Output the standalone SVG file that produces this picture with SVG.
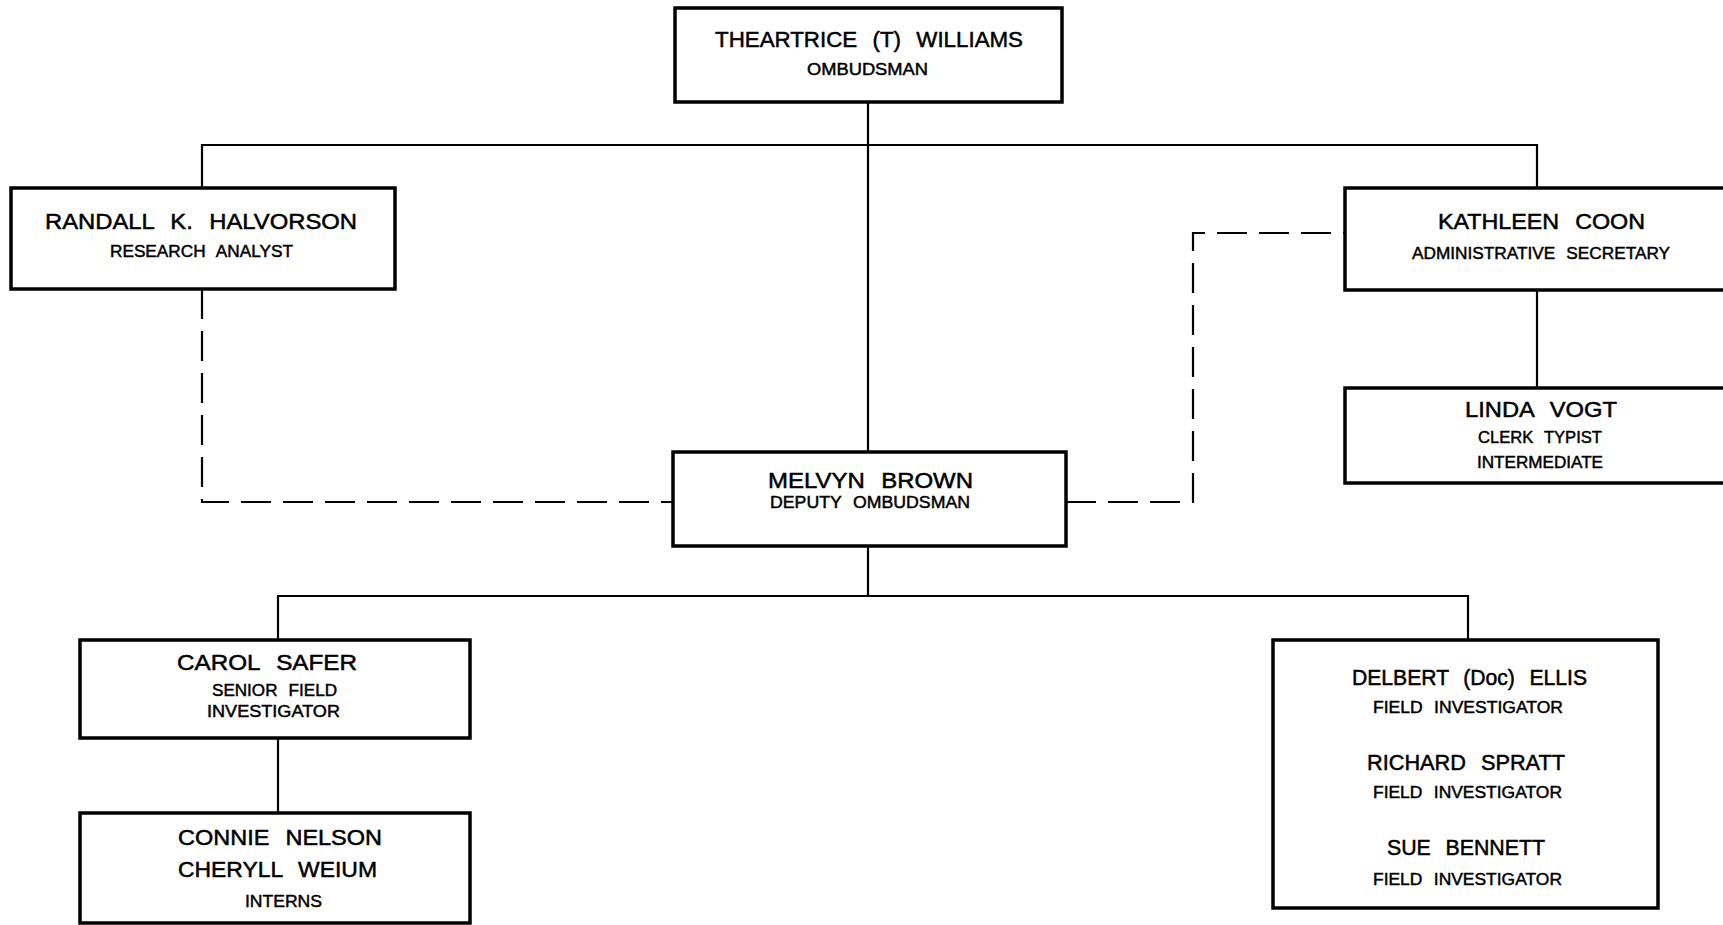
<svg xmlns="http://www.w3.org/2000/svg" width="1723" height="925" viewBox="0 0 1723 925">
<style>
.box{fill:#fff;stroke:#000;stroke-width:3.5}
.ln{fill:none;stroke:#000;stroke-width:2.2}
.dash{fill:none;stroke:#000;stroke-width:2.2;stroke-dasharray:30 12}
.nm{font-family:"Liberation Sans",Arial,sans-serif;font-size:22px;fill:#000;stroke:#000;stroke-width:0.5;word-spacing:9px}
.sb{font-family:"Liberation Sans",Arial,sans-serif;font-size:16px;fill:#000;stroke:#000;stroke-width:0.45;word-spacing:6px}
</style>
<rect width="1723" height="925" fill="#fff"/>
<g id="connectors">
<path class="ln" d="M868,102 V452"/>
<path class="ln" d="M202,188 V145 H1537 V188"/>
<path class="ln" d="M1537,290 V388"/>
<path class="ln" d="M868,546 V596"/>
<path class="ln" d="M278,640 V596 H1468 V640"/>
<path class="ln" d="M278,738 V813"/>
<path class="dash" d="M202,289 V502 H673"/>
<path class="dash" d="M1066,502 H1193 V233 H1345"/>
</g>
<g id="williams">
<rect class="box" x="675" y="8" width="387" height="94"/>
<text class="nm" x="715" y="47" textLength="308" lengthAdjust="spacingAndGlyphs">THEARTRICE (T) WILLIAMS</text>
<text class="sb" x="807" y="75" textLength="121" lengthAdjust="spacingAndGlyphs">OMBUDSMAN</text>
</g>
<g id="halvorson">
<rect class="box" x="11" y="188" width="384" height="101"/>
<text class="nm" x="45" y="229" textLength="312" lengthAdjust="spacingAndGlyphs">RANDALL K. HALVORSON</text>
<text class="sb" x="110" y="257" textLength="183" lengthAdjust="spacingAndGlyphs">RESEARCH ANALYST</text>
</g>
<g id="coon">
<rect class="box" x="1345" y="188" width="400" height="102"/>
<text class="nm" x="1438" y="229" textLength="207" lengthAdjust="spacingAndGlyphs">KATHLEEN COON</text>
<text class="sb" x="1412" y="259" textLength="258" lengthAdjust="spacingAndGlyphs">ADMINISTRATIVE SECRETARY</text>
</g>
<g id="vogt">
<rect class="box" x="1345" y="388" width="400" height="95"/>
<text class="nm" x="1465" y="417" textLength="152" lengthAdjust="spacingAndGlyphs">LINDA VOGT</text>
<text class="sb" x="1478" y="443" textLength="124" lengthAdjust="spacingAndGlyphs">CLERK TYPIST</text>
<text class="sb" x="1477" y="468" textLength="126" lengthAdjust="spacingAndGlyphs">INTERMEDIATE</text>
</g>
<g id="brown">
<rect class="box" x="673" y="452" width="393" height="94"/>
<text class="nm" x="768" y="488" textLength="205" lengthAdjust="spacingAndGlyphs">MELVYN BROWN</text>
<text class="sb" x="770" y="508" textLength="200" lengthAdjust="spacingAndGlyphs">DEPUTY OMBUDSMAN</text>
</g>
<g id="safer">
<rect class="box" x="80" y="640" width="390" height="98"/>
<text class="nm" x="177" y="670" textLength="180" lengthAdjust="spacingAndGlyphs">CAROL SAFER</text>
<text class="sb" x="212" y="696" textLength="125" lengthAdjust="spacingAndGlyphs">SENIOR FIELD</text>
<text class="sb" x="207" y="717" textLength="133" lengthAdjust="spacingAndGlyphs">INVESTIGATOR</text>
</g>
<g id="interns">
<rect class="box" x="80" y="813" width="390" height="110"/>
<text class="nm" x="178" y="845" textLength="204" lengthAdjust="spacingAndGlyphs">CONNIE NELSON</text>
<text class="nm" x="178" y="877" textLength="199" lengthAdjust="spacingAndGlyphs">CHERYLL WEIUM</text>
<text class="sb" x="245" y="907" textLength="77" lengthAdjust="spacingAndGlyphs">INTERNS</text>
</g>
<g id="investigators">
<rect class="box" x="1273" y="640" width="385" height="268"/>
<text class="nm" x="1352" y="685" textLength="235" lengthAdjust="spacingAndGlyphs">DELBERT (Doc) ELLIS</text>
<text class="sb" x="1373" y="713" textLength="190" lengthAdjust="spacingAndGlyphs">FIELD INVESTIGATOR</text>
<text class="nm" x="1367" y="770" textLength="198" lengthAdjust="spacingAndGlyphs">RICHARD SPRATT</text>
<text class="sb" x="1373" y="798" textLength="189" lengthAdjust="spacingAndGlyphs">FIELD INVESTIGATOR</text>
<text class="nm" x="1387" y="855" textLength="158" lengthAdjust="spacingAndGlyphs">SUE BENNETT</text>
<text class="sb" x="1373" y="885" textLength="189" lengthAdjust="spacingAndGlyphs">FIELD INVESTIGATOR</text>
</g>
</svg>
